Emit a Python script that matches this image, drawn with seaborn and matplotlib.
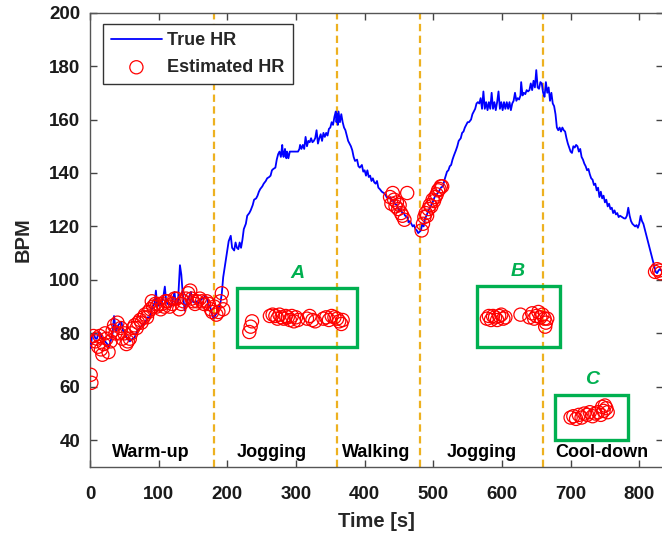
import matplotlib
matplotlib.use("Agg")
import matplotlib.pyplot as plt
import seaborn as sns
from matplotlib.patches import Rectangle

# ---------------- data ----------------
true_t = [0, 1, 3, 5, 8, 10, 13, 15, 18, 22, 25, 27, 30, 33, 35, 37, 38, 41, 44, 46, 48, 50, 54, 58, 62, 65, 69, 72, 76, 80,
          84, 87, 89, 91, 94, 96, 98, 101, 104, 107, 109, 111, 113, 116, 118, 121, 123, 125, 128, 131, 133, 135, 138, 140,
          143, 145, 147, 149, 152, 155, 157, 160, 163, 165, 168, 170, 172, 175, 178, 180, 183, 186, 188, 190, 192, 194, 197,
          200, 202, 205, 207, 210, 212, 214, 216, 218, 220, 222, 224, 227, 229, 232, 234, 237, 239, 242, 244, 246, 248, 251,
          253, 256, 258, 261, 263, 265, 267, 270, 272, 274, 276, 278, 280, 281, 282, 284, 286, 287, 289, 291, 294, 297, 300,
          303, 305, 306, 308, 310, 312, 314, 316, 318, 320, 322, 324, 326, 328, 330, 332, 334, 336, 338, 340, 342, 344, 346,
          348, 350, 352, 354, 356, 358, 359, 360, 361, 362, 364, 366, 368, 370, 372, 374, 376, 378, 380, 382, 384, 386, 389,
          391, 393, 396, 398, 400, 402, 404, 406, 408, 410, 412, 414, 416, 418, 420, 422, 425, 428, 430, 432, 435, 437, 440,
          442, 444, 447, 450, 452, 455, 457, 459, 462, 464, 466, 468, 470, 472, 474, 476, 478, 480, 482, 484, 486, 488, 490,
          493, 496, 499, 502, 505, 508, 511, 514, 517, 520, 522, 524, 526, 528, 530, 533, 535, 537, 540, 542, 544, 546, 548,
          550, 552, 555, 557, 559, 561, 563, 565, 567, 569, 571, 573, 575, 577, 579, 581, 583, 585, 587, 589, 591, 593, 595,
          597, 599, 601, 603, 605, 607, 609, 611, 613, 615, 617, 619, 621, 623, 625, 627, 628, 630, 632, 634, 636, 638, 640,
          642, 644, 646, 648, 650, 652, 654, 656, 658, 660, 662, 664, 666, 668, 670, 672, 674, 676, 678, 680, 682, 684, 686,
          688, 690, 692, 694, 696, 698, 700, 702, 704, 706, 708, 710, 712, 714, 716, 718, 720, 722, 724, 726, 728, 730, 732,
          734, 736, 738, 740, 742, 744, 746, 748, 750, 752, 754, 756, 758, 760, 762, 764, 766, 768, 770, 772, 775, 778, 780,
          782, 784, 786, 788, 790, 792, 794, 796, 798, 800, 802, 804, 806, 808, 810, 812, 814, 816, 818, 820, 822, 824, 826,
          828, 830, 832, 834]
true_hr = [76, 74.5, 79, 80, 78, 78, 80.5, 80, 78, 77, 76, 75, 77, 80, 86.5, 82, 81, 83, 84, 84, 81, 80.5, 78, 77, 78, 78.5,
           81, 82, 83, 84, 86, 86, 88, 90, 91, 96, 90, 91, 91, 94, 97.5, 92, 91, 91, 90, 93, 95.5, 91, 91, 105.5, 102, 95,
           88.5, 91, 93, 94, 95.5, 92, 91.5, 92, 91, 92, 93, 93, 94, 93.5, 91, 90, 87, 85.5, 87, 88, 90, 91.5, 95, 101, 106,
           111, 114.5, 116.5, 112, 111, 114, 112, 111.5, 114, 112, 115, 119, 121, 124, 125, 126, 128, 130, 130.5, 131.5, 133,
           134, 135, 136, 137, 138, 138.5, 139, 141, 141.5, 142, 145, 147, 148, 146, 150.5, 147, 146, 149, 145.5, 148, 145.5,
           148, 148, 148, 148, 148, 149, 150.5, 149, 150.5, 149, 153.5, 150, 152, 151.5, 153, 151.5, 152, 153, 156, 151, 153,
           154.5, 152, 155, 153.5, 155, 154, 156.5, 157, 159, 158, 161, 163, 159, 162, 158, 163, 159, 162, 159, 157, 156, 154,
           152, 151, 150, 148.5, 146, 144.5, 145, 142.5, 142, 143, 140.5, 141, 139, 141, 138.5, 139, 137, 138, 136.5, 136,
           137, 134.5, 134, 133, 132.5, 132, 131, 130.5, 131, 129.5, 130, 128.5, 128, 126, 126.5, 125, 125, 124, 123.5, 121.5,
           122, 121, 120, 120.5, 119, 118.5, 117.5, 118, 118.5, 121, 120, 123, 124, 126, 127.5, 129, 131, 132, 133, 134.5,
           135, 138, 140.5, 141, 142.5, 143, 145, 146.5, 148.5, 150, 152, 153, 155, 155.5, 157, 158, 159, 159, 160, 162, 163,
           164, 166, 166.5, 166, 168, 164, 170.5, 164, 166.5, 163.5, 166.5, 164, 170, 164, 166.5, 163.5, 166.5, 170.5, 164,
           166.5, 163.5, 166.5, 164, 166.5, 164, 166.5, 163.5, 166, 167, 170, 167, 168, 167.5, 169, 174, 169, 170, 169.5, 171,
           170.5, 171, 173.5, 171, 174.5, 172, 178.5, 172, 171.5, 174, 173.5, 170, 168.5, 174, 170, 172, 167, 170, 166, 165,
           162, 157, 156, 157, 155.5, 157, 156, 155.5, 153, 151, 149.5, 148, 147.5, 150, 149.5, 150.5, 150, 148, 149, 146,
           145, 143.5, 142.5, 141, 141.5, 139.5, 138, 137.5, 135.5, 136, 133.5, 134.5, 131, 133, 130.5, 131.5, 129, 130, 127.5,
           128.5, 126.5, 127, 125, 126, 124.5, 125, 123.5, 124, 123.5, 123, 123, 124, 127, 124, 122, 121, 120.5, 120, 120.5,
           119.5, 121, 124, 122, 121, 119, 117, 115, 113, 111, 109, 107, 105, 103, 102.5, 103.5, 104, 103.5, 103]

est_t = [1, 2, 5, 8, 10, 12, 14, 16, 18, 20, 22, 24, 27, 30, 33, 35, 37, 40, 42, 45, 47, 50, 53, 55, 58, 60, 63, 65, 68, 70,
         73, 75, 78, 80, 83, 85, 88, 90, 92, 95, 97, 100, 103, 105, 108, 110, 113, 116, 120, 123, 126, 130, 133, 136, 140,
         143, 146, 148, 150, 153, 156, 160, 163, 166, 170, 173, 176, 178, 181, 184, 187, 190, 192, 194,
         232, 234, 236, 262, 266, 270, 273, 276, 279, 282, 285, 288, 291, 294, 297, 300, 303, 316, 320, 324, 328, 340,
         344, 348, 352, 356, 360, 363, 366, 368,
         437, 439, 441, 443, 445, 447, 449, 451, 453, 455, 458, 462,
         483, 485, 487, 489, 491, 493, 495, 497, 499, 501, 503, 505, 507, 509, 511, 513,
         578, 581, 584, 587, 590, 593, 596, 599, 602, 605, 627, 640, 644, 647, 650, 653, 656, 659, 662, 664, 666, 663,
         700, 704, 708, 712, 716, 720, 724, 728, 732, 736, 740, 744, 746, 748, 750, 752, 754,
         823, 826, 829, 831]
est_hr = [64.5, 61.5, 79, 77, 78, 75, 79, 74, 72, 76, 80, 78, 73, 77, 81, 83, 80, 84, 80, 82, 78, 80, 76, 77, 78, 80, 82, 83,
          82, 84, 85, 84, 86, 87, 86, 88, 89, 92, 90, 91, 90, 91, 89, 91, 90, 92, 92, 90, 91, 93, 93, 89, 91, 92, 93, 95, 96,
          93, 92, 91, 92, 93, 92, 91, 92, 91, 89, 88, 90, 87, 88, 92, 95, 89,
          80.5, 82.5, 84.5, 86.5, 87, 86.5, 85.5, 87, 86, 85.5, 86.5, 86, 85, 86.5, 84.5, 86, 85, 85.5, 86.5, 85, 84.5, 85.5,
          86, 85, 86.5, 86, 85.5, 84.5, 83.5, 85,
          131, 128.5, 132.5, 130, 127.5, 129, 126.5, 128, 125, 124, 122.5, 132.5,
          118.5, 121, 123.5, 125, 124, 126.5, 128, 127.5, 130, 129.5, 131, 132, 133.5, 134, 135, 135,
          85.5, 86.5, 85, 86.5, 86, 85, 86.5, 87, 85.5, 86, 87, 86, 87.5, 85.5, 86.5, 88, 86, 87, 85.5, 84, 85.5, 82.5,
          48.5, 49, 48, 49.5, 48.5, 50, 49.5, 50.5, 49, 50, 50.5, 49.5, 52.5, 51, 53, 52, 50.5,
          103, 104, 103.5, 102.5]

phase_bounds = [180, 360, 480, 660]
phase_names = ["Warm-up", "Jogging", "Walking", "Jogging", "Cool-down"]
phase_centers = [89, 265, 417, 571, 746]

box_names = ["A", "B", "C"]
box_x = [(214, 389), (563, 684), (678, 784)]
box_y = [(74.8, 96.9), (74.8, 97.6), (40.0, 57.1)]

x_ticks = [0, 100, 200, 300, 400, 500, 600, 700, 800]
y_ticks = [40, 60, 80, 100, 120, 140, 160, 180, 200]

# ---------------- style ----------------
sns.set_style("ticks")
plt.rcParams["font.family"] = ["Liberation Sans", "DejaVu Sans"]
plt.rcParams["font.weight"] = "bold"
plt.rcParams["axes.labelweight"] = "bold"

fig = plt.figure(figsize=(6.62, 5.35), dpi=100)
ax = fig.add_axes([90 / 662, 68 / 535, 572.6 / 662, 454.4 / 535])

orange = "#EDB120"
green = "#00B050"

for b in phase_bounds:
    ax.axvline(b, color=orange, lw=1.6, ls=(0, (3.3, 2.0)), zorder=1)

sns.lineplot(x=true_t, y=true_hr, ax=ax, color="#0000FF", lw=1.3, label="True HR",
             sort=False, estimator=None, zorder=3)
sns.scatterplot(x=est_t, y=est_hr, ax=ax, marker="o", s=90, facecolor="none",
                edgecolor="#FF0000", linewidth=0.9, label="Estimated HR", zorder=4)

for name, (x0, x1), (y0, y1) in zip(box_names, box_x, box_y):
    ax.add_patch(Rectangle((x0, y0), x1 - x0, y1 - y0, fill=False,
                           edgecolor=green, lw=2.4, zorder=5))
    ax.text((x0 + x1) / 2, y1 + 5.5, name, color=green,
            fontsize=14, fontweight="bold", fontstyle="italic", ha="center", va="center")

for name, xc in zip(phase_names, phase_centers):
    ax.text(xc, 35.4, name, ha="center", va="center", fontsize=13, fontweight="bold", color="black")

ax.set_xlim(0, 834)
ax.set_ylim(30, 200)
ax.set_xticks(x_ticks)
ax.set_yticks(y_ticks)
ax.tick_params(direction="in", length=5, width=1, top=True, right=True,
               labelsize=13.5, colors="#444444", labelcolor="#1a1a1a")
ax.tick_params(axis="x", pad=14)
ax.tick_params(axis="y", pad=7)
for sp in ax.spines.values():
    sp.set_color("#555555")
    sp.set_linewidth(1.0)

ax.set_xlabel("Time [s]", fontsize=14.5, fontweight="bold")
ax.set_ylabel("BPM", fontsize=14.5, fontweight="bold")
ax.xaxis.set_label_coords(0.5, -0.1)
ax.yaxis.set_label_coords(-0.1, 0.5)

leg = ax.legend(loc="upper left", bbox_to_anchor=(0.0227, 0.975), borderaxespad=0,
                frameon=True, fancybox=False, fontsize=13, handlelength=2.8,
                handletextpad=0.3, labelspacing=0.55, borderpad=0.45)
leg.get_frame().set_edgecolor("#333333")
leg.get_frame().set_linewidth(1.0)
leg.get_frame().set_alpha(1)

fig.savefig("out.png", dpi=100)
